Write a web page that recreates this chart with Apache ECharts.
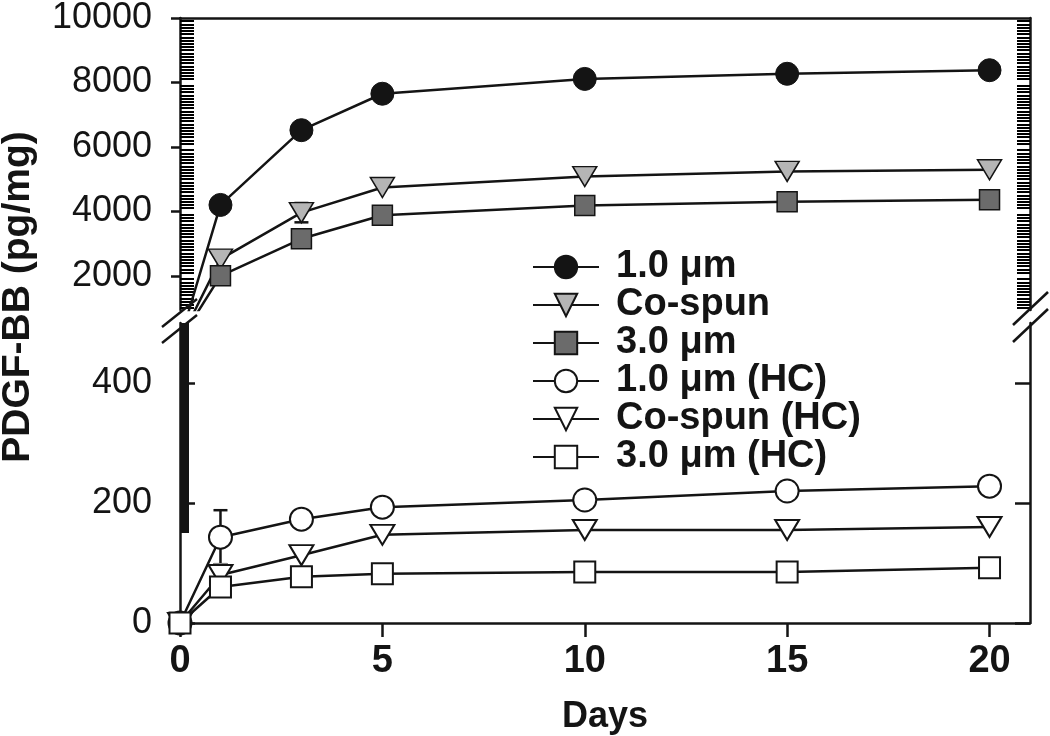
<!DOCTYPE html>
<html>
<head>
<meta charset="utf-8">
<script src="https://cdn.jsdelivr.net/npm/echarts@6/dist/echarts.min.js"></script>
<style>
html,body{margin:0;padding:0;background:#fff;}
#chart{width:1050px;height:736px;}
</style>
</head>
<body>
<div id="chart"></div>
<script>
// ---- data ----
const days = [0, 1, 3, 5, 10, 15, 20];
const seriesNames = ['1.0 μm', 'Co-spun', '3.0 μm', '1.0 μm (HC)', 'Co-spun (HC)', '3.0 μm (HC)'];
const val10 = [0, 4200, 6520, 7650, 8110, 8270, 8380];
const valCo = [0, 2520, 3960, 4740, 5080, 5240, 5290];
const val30 = [0, 2000, 3150, 3880, 4180, 4300, 4360];
const val10HC = [0, 143, 173, 193, 205, 220, 228];
const valCoHC = [0, 80, 113, 147, 155, 155, 160];
const val30HC = [0, 60, 77, 82, 85, 85, 92];
const errCo = [0, 0, 300, 0, 0, 0, 0];
const err10HC = [0, 45, 0, 0, 0, 0, 0];
const errCoHC = [0, 18, 0, 0, 0, 0, 0];
const xTicks = [0, 5, 10, 15, 20];
const upperTicks = [2000, 4000, 6000, 8000, 10000];
const lowerTicks = [0, 200, 400];

// minor tick positions on upper axis (every 100, skipping major ticks)
const upperMinor = [];
for (let v = 1000; v < 10000; v += 100) { if (v % 2000 !== 0) upperMinor.push(v); }

const INK = '#141414';
const FONT = 'Liberation Sans, Arial, sans-serif';
const triDown = 'path://M0,0 L24,0 L12,20 Z';

function pairs(xs, ys) { return xs.map((x, i) => [x, ys[i]]); }
function errPairs(xs, ys, es) {
  const out = [];
  xs.forEach((x, i) => { if (es[i] > 0) out.push([x, ys[i], es[i]]); });
  return out;
}

const lineStyle = { color: INK, width: 2.5 };

function lineSeries(name, vals, xi, yi, symbol, size, fill, bw) {
  return {
    name: name, type: 'line', xAxisIndex: xi, yAxisIndex: yi,
    data: pairs(days, vals), symbol: symbol, symbolSize: size,
    showAllSymbol: true, clip: true, z: 3,
    lineStyle: lineStyle,
    itemStyle: { color: fill, borderColor: INK, borderWidth: bw, opacity: 1 },
    emphasis: { disabled: true }
  };
}

function errSeries(xs, ys, es, xi, yi, color) {
  return {
    type: 'custom', xAxisIndex: xi, yAxisIndex: yi, z: 2,
    data: errPairs(xs, ys, es),
    encode: { x: 0, y: 1 },
    renderItem: function (params, api) {
      const x = api.value(0), y = api.value(1), e = api.value(2);
      const hi = api.coord([x, y + e]);
      const lo = api.coord([x, y - e]);
      const w = 7;
      const st = { stroke: color, lineWidth: 2.5 };
      return { type: 'group', children: [
        { type: 'line', shape: { x1: hi[0], y1: hi[1], x2: lo[0], y2: lo[1] }, style: st },
        { type: 'line', shape: { x1: hi[0] - w, y1: hi[1], x2: hi[0] + w, y2: hi[1] }, style: st },
        { type: 'line', shape: { x1: lo[0] - w, y1: lo[1], x2: lo[0] + w, y2: lo[1] }, style: st }
      ]};
    }
  };
}

const axLine = { show: true, lineStyle: { color: INK, width: 2.5 } };
const noTick = { show: false };
const noLabel = { show: false };
const noSplit = { show: false };
const plain = function (v) { return String(v); };

const option = {
  animation: false,
  backgroundColor: '#fff',
  grid: [
    { left: 180, right: 20, top: 11, height: 299 },
    { left: 180, right: 20, top: 323, height: 300 }
  ],
  xAxis: [
    { gridIndex: 0, type: 'value', min: 0, max: 21, position: 'bottom', show: false },
    { gridIndex: 0, type: 'value', min: 0, max: 21, position: 'top',
      axisLine: axLine, axisTick: noTick, axisLabel: noLabel, splitLine: noSplit },
    { gridIndex: 1, type: 'value', min: 0, max: 21, position: 'bottom',
      axisLine: Object.assign({ onZero: false }, axLine),
      axisTick: { show: true, customValues: xTicks, length: 14, lineStyle: { color: INK, width: 2.5 } },
      axisLabel: { customValues: xTicks, formatter: plain, margin: 20, color: INK, fontSize: 38, fontWeight: 'bold', fontFamily: FONT },
      splitLine: noSplit,
      name: 'Days', nameLocation: 'middle', nameGap: 76,
      nameTextStyle: { color: INK, fontSize: 36, fontWeight: 'bold', fontFamily: FONT } }
  ],
  yAxis: [
    { gridIndex: 0, type: 'value', min: 940, max: 10000, position: 'left',
      axisLine: axLine,
      axisTick: { show: true, customValues: upperTicks, length: 9, lineStyle: { color: INK, width: 2.5 } },
      axisLabel: { customValues: upperTicks, formatter: plain, margin: 28, color: INK, fontSize: 36, fontFamily: FONT },
      splitLine: noSplit },
    { gridIndex: 0, type: 'value', min: 940, max: 10000, position: 'left',
      axisLine: { show: false },
      axisTick: { show: true, inside: true, customValues: upperMinor, length: 14, lineStyle: { color: '#000', width: 2 } },
      axisLabel: noLabel, splitLine: noSplit },
    { gridIndex: 0, type: 'value', min: 940, max: 10000, position: 'right',
      axisLine: axLine,
      axisTick: { show: true, inside: true, customValues: upperMinor, length: 13, lineStyle: { color: '#000', width: 2 } },
      axisLabel: noLabel, splitLine: noSplit },
    { gridIndex: 1, type: 'value', min: 0, max: 500, position: 'left',
      axisLine: axLine,
      axisTick: { show: true, inside: true, customValues: lowerTicks, length: 15, lineStyle: { color: INK, width: 2.5 } },
      axisLabel: { customValues: lowerTicks, formatter: plain, margin: 28, color: INK, fontSize: 36, fontFamily: FONT },
      splitLine: noSplit },
    { gridIndex: 1, type: 'value', min: 0, max: 500, position: 'right',
      axisLine: axLine,
      axisTick: { show: true, inside: true, customValues: lowerTicks, length: 15, lineStyle: { color: INK, width: 2.5 } },
      axisLabel: noLabel, splitLine: noSplit }
  ],
  legend: {
    data: seriesNames,
    orient: 'vertical', left: 532, top: 248, padding: 0,
    itemWidth: 66, itemHeight: 28, itemGap: 0,
    selectedMode: false,
    textStyle: { color: INK, fontSize: 38, fontWeight: 'bold', lineHeight: 35.2,
      fontFamily: FONT, padding: [0, 0, 0, 12] }
  },
  series: [
    errSeries(days, valCo, errCo, 0, 0, INK),
    errSeries(days, val10HC, err10HC, 2, 3, INK),
    errSeries(days, valCoHC, errCoHC, 2, 3, '#888'),
    lineSeries(seriesNames[0], val10, 0, 0, 'circle', 23, INK, 1),
    lineSeries(seriesNames[1], valCo, 0, 0, triDown, [24, 20], '#b5b5b5', 1.5),
    lineSeries(seriesNames[2], val30, 0, 0, 'rect', 20, '#6b6b6b', 1.5),
    lineSeries(seriesNames[3], val10HC, 2, 3, 'circle', 23, '#fff', 2),
    lineSeries(seriesNames[4], valCoHC, 2, 3, triDown, [24, 20], '#fff', 2),
    lineSeries(seriesNames[5], val30HC, 2, 3, 'rect', 21, '#fff', 2)
  ]
};

const chart = echarts.init(document.getElementById('chart'), null, { renderer: 'canvas' });
chart.setOption(option);

// decorations: axis break marks, y title, thick axis segment
const barTop = chart.convertToPixel({ yAxisIndex: 3 }, 500);
const barBot = chart.convertToPixel({ yAxisIndex: 3 }, 150);
const brk = { stroke: INK, lineWidth: 2.5 };
chart.setOption({
  graphic: [
    { type: 'rect', shape: { x: 180, y: barTop, width: 9, height: barBot - barTop }, style: { fill: INK }, z: 5 },
    { type: 'line', shape: { x1: 162, y1: 327, x2: 197, y2: 299 }, style: brk, z: 10 },
    { type: 'line', shape: { x1: 162, y1: 343, x2: 197, y2: 315 }, style: brk, z: 10 },
    { type: 'line', shape: { x1: 1013, y1: 325, x2: 1048, y2: 292 }, style: brk, z: 10 },
    { type: 'line', shape: { x1: 1013, y1: 342, x2: 1048, y2: 309 }, style: brk, z: 10 },
    { type: 'text', x: 18, y: 297, rotation: Math.PI / 2, z: 10,
      style: { text: 'PDGF-BB (pg/mg)', fill: INK, fontSize: 39, fontWeight: 'bold',
        fontFamily: FONT, align: 'center', verticalAlign: 'middle' } }
  ]
});
</script>
</body>
</html>
